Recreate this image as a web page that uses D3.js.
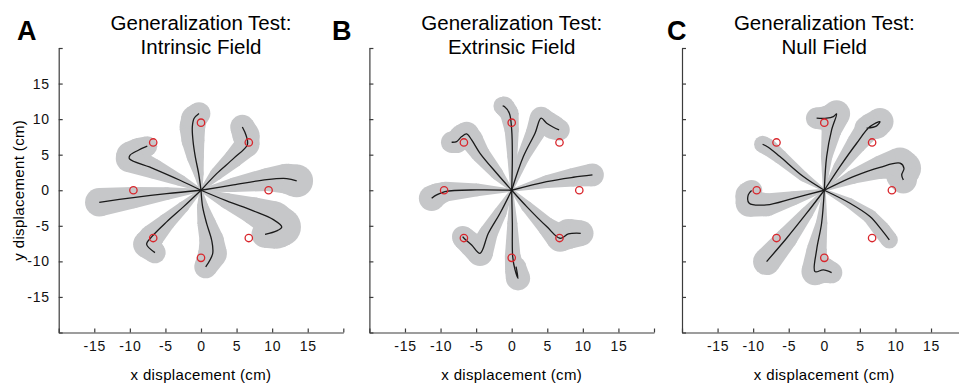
<!DOCTYPE html>
<html>
<head>
<meta charset="utf-8">
<script src="https://cdn.jsdelivr.net/npm/d3@7"></script>
<style>
  body { margin: 0; background: #fff; }
  svg { font-family: "Liberation Sans", Arial, Helvetica, sans-serif; }
  .axis path, .axis line { stroke: #3c3c3c; stroke-width: 1.2; }
  .axis text { font-size: 14px; letter-spacing: 0.7px; fill: #111; }
</style>
</head>
<body>
<svg id="chart" width="959" height="384"></svg>
<script>
// ---- data (cm) ----
var panelLetters = ["A", "B", "C"];
var titleLine1 = ["Generalization Test:", "Generalization Test:", "Generalization Test:"];
var titleLine2 = ["Intrinsic Field", "Extrinsic Field", "Null Field"];
var tickValues = [-20, -15, -10, -5, 0, 5, 10, 15, 20];
var tickLabels = ["", "-15", "-10", "-5", "0", "5", "10", "15", ""];
var targetAngles = [0, 45, 90, 135, 180, 225, 270, 315];
var targetRadius = 9.5;

// each path: [x, y, sd] points from the start position outwards
var intrinsicPaths = [
  [[0,0,0.2],[-0.33,2.34,0.7],[-0.8,4.69,1.2],[-1.13,7.03,1.6],[-1.22,8.9,1.8],[-0.98,10.08,1.8],[-0.28,10.78,1.6]],
  [[0,0,0.2],[2.2,2.34,0.9],[4.55,4.45,1.3],[6.52,6.42,1.7],[6.33,7.74,1.9],[5.81,8.9,1.7]],
  [[0,0,0.2],[4.55,0.75,1.0],[9.24,1.5,1.6],[12.05,1.64,2.1],[13.45,1.31,2.3]],
  [[0,0,0.2],[3.61,-1.5,1.1],[7.36,-2.9,1.9],[10.17,-4.13,2.6],[11.35,-5.16,2.7],[10.64,-5.72,2.5],[9.0,-6.19,1.9]],
  [[0,0,0.2],[0.23,-2.34,0.8],[0.8,-4.69,1.3],[1.5,-7.03,1.7],[1.64,-8.9,2.0],[0.66,-10.78,1.6]],
  [[0,0,0.2],[-2.48,-2.34,0.8],[-4.83,-4.45,1.2],[-6.94,-6.56,1.7],[-7.64,-7.6,1.9],[-6.47,-8.77,1.5]],
  [[0,0,0.2],[-4.83,-0.47,0.9],[-9.52,-1.03,1.5],[-14.3,-1.69,2.0]],
  [[0,0,0.2],[-2.95,1.41,0.8],[-6.7,3.05,1.4],[-10.08,4.45,1.9],[-9.99,4.92,1.9],[-8.81,5.63,1.7],[-7.55,6.19,1.4]]
];
var extrinsicPaths = [
  [[0,0,0.2],[0.09,4.73,0.7],[0,8.49,1.0],[-0.33,10.83,1.3],[-1.03,11.77,1.4],[-1.27,11.86,1.3]],
  [[0,0,0.2],[1.64,4.73,0.9],[3.28,8.02,1.3],[4.13,10.13,1.6],[4.92,9.42,1.7],[5.86,8.86,1.7],[6.66,8.49,1.5]],
  [[0,0,0.2],[4.92,1.22,0.9],[8.67,1.83,1.3],[11.35,2.16,1.6]],
  [[0,0,0.2],[2.11,-2.3,0.8],[4.92,-5.11,1.3],[6.8,-6.75,1.9],[7.97,-6.14,2.1],[9.7,-6.05,1.8]],
  [[0,0,0.2],[0.09,-4.64,0.7],[0.14,-9.33,1.1],[0.47,-11.2,1.4],[0.89,-12.38,1.7],[0.61,-10.74,1.4]],
  [[0,0,0.2],[-1.64,-3.23,0.9],[-3.28,-6.05,1.3],[-4.45,-8.86,1.8],[-5.63,-7.69,1.7],[-6.7,-6.75,1.6],[-6.89,-6.52,1.5]],
  [[0,0,0.2],[-4.92,0.05,0.9],[-9.38,-0.19,1.4],[-10.55,-0.66,1.6],[-11.25,-1.13,1.8]],
  [[0,0,0.2],[-2.11,2.39,0.9],[-4.45,5.2,1.3],[-5.63,7.08,1.6],[-6.33,7.92,1.7],[-7.03,7.55,1.7],[-7.74,6.84,1.6],[-8.44,6.75,1.5]]
];
var nullPaths = [
  [[0,0,0.2],[0.33,4.73,0.8],[1.03,8.49,1.4],[1.73,10.74,1.9],[1.27,10.36,1.9],[0.33,10.13,1.7],[-1.08,10.13,1.5]],
  [[0,0,0.2],[2.2,3.33,0.9],[4.55,6.61,1.4],[6.42,8.95,1.8],[7.83,9.66,1.9],[7.36,9.05,1.8],[5.95,8.72,1.7]],
  [[0,0,0.2],[4.08,1.92,1.0],[7.83,3.23,1.6],[10.64,3.8,2.2],[11.2,3.09,2.4],[10.88,2.16,2.2],[11.11,1.45,1.9]],
  [[0,0,0.2],[3.61,-1.83,0.7],[6.42,-3.7,1.0],[8.06,-5.58,1.2],[9.14,-6.99,1.2]],
  [[0,0,0.2],[-0.38,-4.64,0.8],[-1.08,-8.39,1.4],[-1.31,-11.44,1.9],[-0.14,-11.2,1.8],[1.03,-11.58,1.5]],
  [[0,0,0.2],[-2.48,-3.23,0.9],[-5.3,-6.75,1.5],[-8.11,-10.03,1.9]],
  [[0,0,0.2],[-4.36,-1.13,1.0],[-8.11,-2.06,1.6],[-10.55,-1.83,1.9],[-10.69,-0.66,1.8],[-10.22,-0.05,1.5]],
  [[0,0,0.2],[-2.95,1.92,0.7],[-6.24,4.73,1.0],[-7.88,6.05,1.2],[-8.67,6.47,1.2]]
];
var panelPaths = [intrinsicPaths, extrinsicPaths, nullPaths];

// ---- layout ----
var panelLeft = [58.7, 369.4, 682];
var panelSize = 284.6;
var plotTop = 48, plotBottom = 332.5;
var letterX = [17, 332, 667];

var svg = d3.select("#chart");

panelPaths.forEach(function (paths, k) {
  var x = d3.scaleLinear().domain([-20, 20]).range([panelLeft[k], panelLeft[k] + panelSize]);
  var y = d3.scaleLinear().domain([-20, 20]).range([plotBottom, plotTop]);
  var unit = x(1) - x(0);
  var g = svg.append("g");

  // shaded variability bands: circles joined by tangent hulls
  var bands = g.append("g").attr("fill", "#c6c7c9");
  paths.forEach(function (p) {
    var pts = p.map(function (d) { return [x(d[0]), y(d[1]), d[2] * unit]; });
    pts.forEach(function (q) {
      bands.append("circle").attr("cx", q[0]).attr("cy", q[1]).attr("r", q[2]);
    });
    for (var i = 0; i < pts.length - 1; i++) {
      var a = pts[i], b = pts[i + 1];
      var dx = b[0] - a[0], dy = b[1] - a[1], L = Math.hypot(dx, dy);
      if (L === 0) continue;
      var ux = dx / L, uy = dy / L, nx = -uy, ny = ux;
      var s = (a[2] - b[2]) / L;
      if (Math.abs(s) >= 1) continue;
      var c = Math.sqrt(1 - s * s);
      var m1 = [s * ux + c * nx, s * uy + c * ny], m2 = [s * ux - c * nx, s * uy - c * ny];
      bands.append("polygon").attr("points", [
        [a[0] + a[2] * m1[0], a[1] + a[2] * m1[1]],
        [b[0] + b[2] * m1[0], b[1] + b[2] * m1[1]],
        [b[0] + b[2] * m2[0], b[1] + b[2] * m2[1]],
        [a[0] + a[2] * m2[0], a[1] + a[2] * m2[1]]
      ].map(function (v) { return v.join(","); }).join(" "));
    }
  });

  // mean trajectories
  var line = d3.line().x(function (d) { return x(d[0]); }).y(function (d) { return y(d[1]); }).curve(d3.curveCatmullRom.alpha(0.5));
  g.append("g").selectAll("path").data(paths).enter().append("path")
    .attr("d", line).attr("fill", "none").attr("stroke", "#1a1a1a").attr("stroke-width", 1.3);

  // targets
  g.append("g").selectAll("circle").data(targetAngles).enter().append("circle")
    .attr("cx", function (a) { return x(targetRadius * Math.cos(a * Math.PI / 180)); })
    .attr("cy", function (a) { return y(targetRadius * Math.sin(a * Math.PI / 180)); })
    .attr("r", 3.7).attr("fill", "none").attr("stroke", "#d9262c").attr("stroke-width", 1.3);

  // axes
  g.append("g").attr("class", "axis").attr("transform", "translate(0," + plotBottom + ")")
    .call(d3.axisBottom(x).tickValues(tickValues).tickSizeInner(-4).tickSizeOuter(0).tickPadding(9)
      .tickFormat(function (d, i) { return tickLabels[i]; }));
  g.append("g").attr("class", "axis").attr("transform", "translate(" + panelLeft[k] + ",0)")
    .call(d3.axisLeft(y).tickValues(tickValues).tickSizeInner(-4).tickSizeOuter(0).tickPadding(9)
      .tickFormat(function (d, i) { return k === 0 ? tickLabels[i] : ""; }));

  // titles and labels
  var cx = x(0);
  g.append("text").attr("x", cx).attr("y", 30).attr("text-anchor", "middle")
    .style("font-size", "20.5px").text(titleLine1[k]);
  g.append("text").attr("x", cx).attr("y", 53.5).attr("text-anchor", "middle")
    .style("font-size", "20.5px").text(titleLine2[k]);
  g.append("text").attr("x", letterX[k]).attr("y", 39.5)
    .style("font-size", "27px").style("font-weight", "bold").text(panelLetters[k]);
  g.append("text").attr("x", cx).attr("y", 380).attr("text-anchor", "middle")
    .style("font-size", "15px").style("letter-spacing", "0.35px").text("x displacement (cm)");
  if (k === 0) {
    g.append("text").attr("transform", "translate(24," + y(0) + ") rotate(-90)")
      .attr("text-anchor", "middle")
      .style("font-size", "15px").style("letter-spacing", "0.35px").text("y displacement (cm)");
  }
});
</script>
</body>
</html>
